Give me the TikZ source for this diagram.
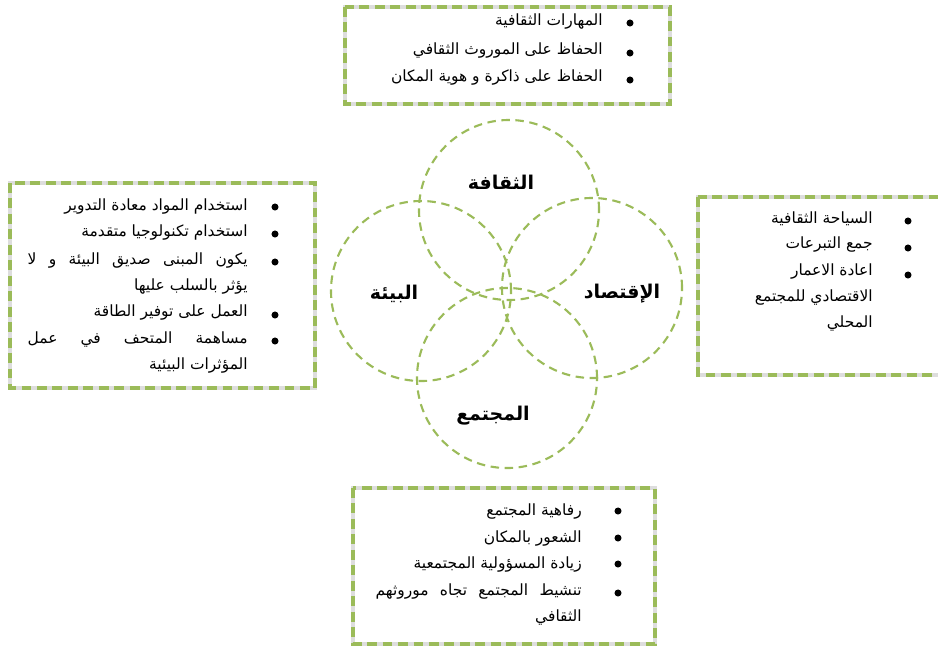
\documentclass[tikz,border=0pt]{standalone}
\usepackage{fontspec}
\usepackage{xcolor}
\setmainfont{DejaVu Sans}
\newfontfamily\arabicfont[Script=Arabic]{DejaVu Sans}
\TeXXeTstate=1
\definecolor{leafgreen}{HTML}{9BBB59}
\definecolor{dashgray}{HTML}{DDDDDD}
\newcommand{\artext}[1]{{\arabicfont\beginR #1\endR}}
\newcommand{\arfill}[2]{\hbox to #1{\arabicfont\beginR #2\endR}}

\begin{document}
\begin{tikzpicture}[x=0.025cm,y=-0.025cm,
    item/.style={anchor=east,inner sep=0pt,font=\fontsize{11}{13}\selectfont},
    dot/.style={circle,fill=black,inner sep=0pt,minimum size=5pt},
    ring/.style={circle,draw=leafgreen,line width=1.5pt,dash pattern=on 6pt off 4pt,minimum size=4.5cm},
    frame/.style={draw=leafgreen,line width=2.2pt,dash pattern=on 7pt off 4pt,preaction={draw=dashgray,line width=2.2pt}},
    title/.style={font=\fontsize{13.5}{16}\selectfont\bfseries}]
    \useasboundingbox (0,0) rectangle (938,646);

    % circles
    \node [ring] (culture) at (509,210) {};
    \node [ring] (environment) at (421,291) {};
    \node [ring] (economy) at (592,288) {};
    \node [ring] (society) at (507,378) {};

    \node [title] (culturelbl) at (501,182) {\artext{الثقافة}};
    \node [title] (envlbl) at (394,294) {\artext{البيئة}};
    \node [title] (ecolbl) at (622,294) {\artext{الإقتصاد}};
    \node [title] (soclbl) at (493,416) {\artext{المجتمع}};

    % top box
    \draw [frame] (345,7) rectangle (670,104);
    \node [item] (t1) at (603,22) {\artext{المهارات الثقافية}};
    \node [item] (t2) at (603,51) {\artext{الحفاظ على الموروث الثقافي}};
    \node [item] (t3) at (603,78) {\artext{الحفاظ على ذاكرة و هوية المكان}};
    \node [dot] (td1) at (630,23) {};
    \node [dot] (td2) at (630,53) {};
    \node [dot] (td3) at (630,80) {};

    % left box
    \draw [frame] (10,183) rectangle (315,388);
    \node [item] (l1) at (248,207) {\artext{استخدام المواد معادة التدوير}};
    \node [item] (l2) at (248,233) {\artext{استخدام تكنولوجيا متقدمة}};
    \node [item] (l3) at (248,261) {\arfill{5.5cm}{يكون\hfill المبنى\hfill صديق\hfill البيئة\hfill و\hfill لا}};
    \node [item] (l4) at (248,287) {\artext{يؤثر بالسلب عليها}};
    \node [item] (l5) at (248,313) {\artext{العمل على توفير الطاقة}};
    \node [item] (l6) at (248,340) {\arfill{5.5cm}{مساهمة\hfill المتحف\hfill في\hfill عمل}};
    \node [item] (l7) at (248,366) {\artext{المؤثرات البيئية}};
    \node [dot] (ld1) at (275,207) {};
    \node [dot] (ld2) at (275,234) {};
    \node [dot] (ld3) at (275,262) {};
    \node [dot] (ld5) at (275,315) {};
    \node [dot] (ld6) at (275,341) {};

    % right box
    \draw [frame] (698,197) rectangle (942,375);
    \node [item] (r1) at (873,219) {\artext{السياحة الثقافية}};
    \node [item] (r2) at (873,245) {\artext{جمع التبرعات}};
    \node [item] (r3) at (873,272) {\artext{اعادة الاعمار}};
    \node [item] (r4) at (873,298) {\artext{الاقتصادي للمجتمع}};
    \node [item] (r5) at (873,324) {\artext{المحلي}};
    \node [dot] (rd1) at (908,221) {};
    \node [dot] (rd2) at (908,248) {};
    \node [dot] (rd3) at (908,275) {};

    % bottom box
    \draw [frame] (353,488) rectangle (655,644);
    \node [item] (b1) at (582,511) {\artext{رفاهية المجتمع}};
    \node [item] (b2) at (582,538) {\artext{الشعور بالمكان}};
    \node [item] (b3) at (582,564) {\artext{زيادة المسؤولية المجتمعية}};
    \node [item] (b4) at (582,591) {\arfill{5.15cm}{تنشيط\hfill المجتمع\hfill تجاه\hfill موروثهم}};
    \node [item] (b5) at (582,617) {\artext{الثقافي}};
    \node [dot] (bd1) at (618,511) {};
    \node [dot] (bd2) at (618,538) {};
    \node [dot] (bd3) at (618,564) {};
    \node [dot] (bd4) at (618,593) {};
\end{tikzpicture}
\end{document}
